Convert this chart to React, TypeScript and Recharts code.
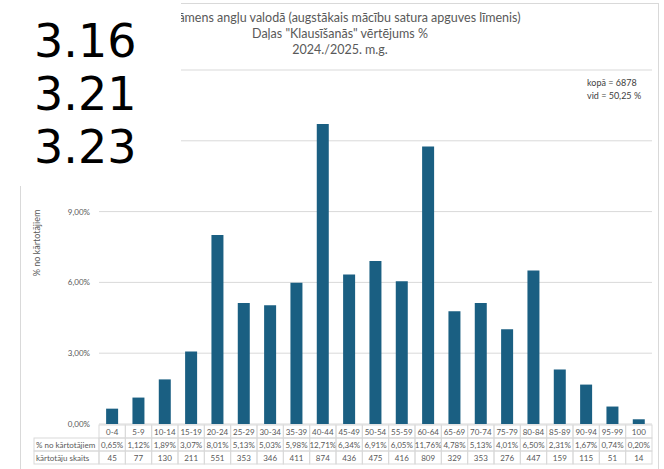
import { Bar, BarChart, CartesianGrid, XAxis, YAxis } from "recharts";

const categories = [
	"0-4", "5-9", "10-14", "15-19", "20-24", "25-29", "30-34", "35-39", "40-44", "45-49",
	"50-54", "55-59", "60-64", "65-69", "70-74", "75-79", "80-84", "85-89", "90-94", "95-99", "100",
];
const percents = [
	0.65, 1.12, 1.89, 3.07, 8.01, 5.13, 5.03, 5.98, 12.71, 6.34,
	6.91, 6.05, 11.76, 4.78, 5.13, 4.01, 6.5, 2.31, 1.67, 0.74, 0.2,
];
const counts = [
	45, 77, 130, 211, 551, 353, 346, 411, 874, 436,
	475, 416, 809, 329, 353, 276, 447, 159, 115, 51, 14,
];
const yTicks = [0, 3, 6, 9, 12, 15];
const overlayNumbers = ["3.16", "3.21", "3.23"];
const titleLines = [
	"Eksāmens angļu valodā (augstākais mācību satura apguves līmenis)",
	'Daļas "Klausīšanās" vērtējums %',
	"2024./2025. m.g.",
];
const rowLabels = ["% no kārtotājiem", "kārtotāju skaits"];

const data = categories.map((c, i) => ({ name: c, pct: percents[i], count: counts[i] }));

const FONT = "Lato, 'Open Sans', sans-serif";
const GRID = "#d9d9d9";
const TEXT = "#595959";
const PLOT_LEFT = 99;
const PLOT_RIGHT = 652;
const COL_W = (PLOT_RIGHT - PLOT_LEFT) / categories.length;
const ROW_H = 13;

const fmtPct = (v: number) => v.toFixed(2).replace(".", ",") + "%";

function TableTick(props: any) {
	const { x, y, index } = props;
	const left = x - COL_W / 2;
	const top = y + 1;
	const cells = [categories[index], fmtPct(percents[index]), String(counts[index])];
	return (
		<g>
			{cells.map((t, r) => (
				<g key={r}>
					<rect x={left} y={top + r * ROW_H} width={COL_W} height={ROW_H} fill="none" stroke={GRID} strokeWidth={1} />
					<text x={x} y={top + r * ROW_H + 9.5} textAnchor="middle" fontSize={8} fill={TEXT} fontFamily={FONT}>
						{t}
					</text>
				</g>
			))}
			{index === 0 &&
				rowLabels.map((l, r) => (
					<g key={"l" + r}>
						<rect x={34} y={top + (r + 1) * ROW_H} width={left - 34} height={ROW_H} fill="none" stroke={GRID} strokeWidth={1} />
						<text x={36} y={top + (r + 1) * ROW_H + 9.5} fontSize={8} fill={TEXT} fontFamily={FONT}>
							{l}
						</text>
					</g>
				))}
		</g>
	);
}

// ticks above 9% sit under the white overlay in the original, so they are left blank
function YTick(props: any) {
	const { x, y, payload } = props;
	if (payload.value > 9) return <g />;
	return (
		<text x={x} y={y + 3} textAnchor="end" fontSize={8} fill={TEXT} fontFamily={FONT}>
			{fmtPct(payload.value)}
		</text>
	);
}

export default function App() {
	return (
		<div style={{ position: "absolute", left: 0, top: 0, width: 664, height: 469, overflow: "hidden", background: "#fff" }}>
			<div style={{ position: "absolute", left: 20, top: 3, width: 637, height: 500, border: `1px solid ${GRID}` }} />
			{titleLines.map((t, i) => (
				<div
					key={i}
					style={{
						position: "absolute",
						left: 140,
						width: 400,
						top: 10 + i * 16,
						textAlign: "center",
						fontFamily: FONT,
						fontSize: 12.5,
						lineHeight: "16px",
						color: TEXT,
						whiteSpace: "nowrap",
					}}
				>
					{t}
				</div>
			))}
			<div style={{ position: "absolute", left: 587, top: 76, fontFamily: FONT, fontSize: 9, lineHeight: "13px", color: "#404040" }}>
				<div>kopā = 6878</div>
				<div>vid = 50,25 %</div>
			</div>
			<div style={{ position: "absolute", left: 0, top: 0 }}>
				<BarChart
					width={664}
					height={469}
					data={data}
					margin={{ top: 70, right: 664 - PLOT_RIGHT, bottom: 0, left: 20 }}
					barCategoryGap="27%"
				>
					<CartesianGrid vertical={false} stroke={GRID} />
					<XAxis
						dataKey="name"
						axisLine={false}
						tickLine={false}
						tickSize={0}
						tickMargin={0}
						height={45}
						interval={0}
						tick={<TableTick />}
					/>
					<YAxis
						width={PLOT_LEFT - 20}
						domain={[0, 15]}
						ticks={yTicks}
						axisLine={false}
						tickLine={false}
						tickSize={0}
						tickMargin={9}
						tick={<YTick />}
						label={{
							content: () => (
								<text
									x={40}
									y={243}
									transform="rotate(-90 40 243)"
									textAnchor="middle"
									fontSize={9}
									fill={TEXT}
									fontFamily={FONT}
								>
									% no kārtotājiem
								</text>
							),
						}}
					/>
					<Bar dataKey="pct" fill="#1a5f82" isAnimationActive={false} />
				</BarChart>
			</div>
			<div
				style={{
					position: "absolute",
					left: 0,
					top: 0,
					width: 181,
					height: 186,
					background: "#fff",
					paddingTop: 15,
					paddingLeft: 34,
					boxSizing: "border-box",
					fontFamily: "'DejaVu Sans', sans-serif",
					fontSize: 46,
					lineHeight: "53px",
					color: "#000",
				}}
			>
				{overlayNumbers.map((n) => (
					<div key={n}>{n}</div>
				))}
			</div>
		</div>
	);
}
